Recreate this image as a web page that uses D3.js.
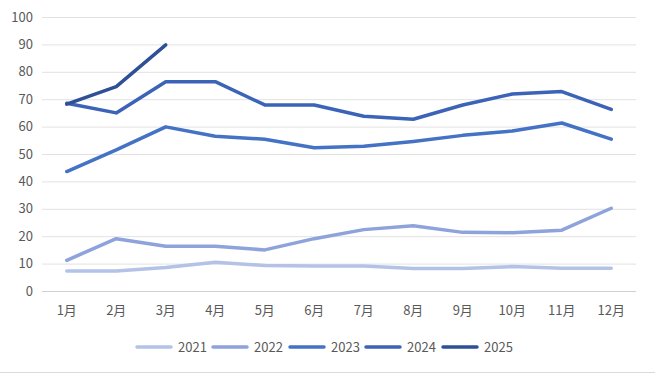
<!DOCTYPE html>
<html><head><meta charset="utf-8">
<script src="https://cdn.jsdelivr.net/npm/d3@7"></script>
<style>body{margin:0;background:#fff;}svg{display:block;}</style>
</head><body>
<svg id="c" width="655" height="374"></svg>
<script>
const months = ["1月","2月","3月","4月","5月","6月","7月","8月","9月","10月","11月","12月"];
const yTicks = [0,10,20,30,40,50,60,70,80,90,100];
const seriesNames = ["2021","2022","2023","2024","2025"];
const s2021 = [7.3,7.3,8.6,10.5,9.3,9.1,9.1,8.2,8.2,8.9,8.3,8.3];
const s2022 = [11.2,19.1,16.3,16.3,15.0,19.1,22.4,23.8,21.4,21.3,22.2,30.2];
const s2023 = [43.6,51.5,59.9,56.5,55.4,52.3,52.8,54.6,56.8,58.4,61.3,55.4];
const s2024 = [68.5,65.0,76.4,76.4,67.9,67.9,63.8,62.7,67.9,71.9,72.8,66.3];
const s2025 = [68.2,74.6,89.8];
const colors = ["#b4c2e7","#8ea3dc","#4472c4","#3b63b7","#2f5097"];
const allSeries = [s2021,s2022,s2023,s2024,s2025];

const svg = d3.select("#c");
const font = "'Noto Sans CJK SC', 'Microsoft YaHei', sans-serif";
const x = d3.scaleBand().domain(months).range([42,636]).padding(0);
const y = d3.scaleLinear().domain([0,100]).range([291,17]);

// gridlines
svg.append("g").selectAll("line").data(yTicks).join("line")
  .attr("x1",42).attr("x2",636)
  .attr("y1",d=>y(d)+0.5).attr("y2",d=>y(d)+0.5)
  .attr("stroke",d=>d===0?"#d0d0d0":"#e2e2e2").attr("stroke-width",1);

// y labels
svg.append("g").selectAll("text").data(yTicks).join("text")
  .attr("x",33).attr("y",d=>y(d)).attr("dy","0.35em")
  .attr("text-anchor","end").attr("font-family",font).attr("font-size",13)
  .attr("fill","#595959").text(d=>d);

// x labels
svg.append("g").selectAll("text").data(months).join("text")
  .attr("x",d=>x(d)+x.bandwidth()/2).attr("y",310).attr("dy","0.35em")
  .attr("text-anchor","middle").attr("font-family",font).attr("font-size",13)
  .attr("fill","#595959").text(d=>d);

const line = d3.line().x((d,i)=>x(months[i])+x.bandwidth()/2).y(d=>y(d));
allSeries.forEach((s,k)=>{
  svg.append("path").datum(s).attr("d",line).attr("fill","none")
    .attr("stroke",colors[k]).attr("stroke-width",3.5)
    .attr("stroke-linejoin","round").attr("stroke-linecap","round");
});

// legend
const legX = [135,211,288,364,441];
const lg = svg.append("g");
seriesNames.forEach((n,k)=>{
  lg.append("line").attr("x1",legX[k]+2).attr("x2",legX[k]+36).attr("y1",347).attr("y2",347)
    .attr("stroke",colors[k]).attr("stroke-width",3.5).attr("stroke-linecap","round");
  lg.append("text").attr("x",legX[k]+43).attr("y",347).attr("dy","0.35em")
    .attr("font-family",font).attr("font-size",13).attr("fill","#595959").text(n);
});

// bottom border
svg.append("line").attr("x1",0).attr("x2",655).attr("y1",372.5).attr("y2",372.5)
  .attr("stroke","#d9d9d9").attr("stroke-width",1);
</script>
</body></html>
